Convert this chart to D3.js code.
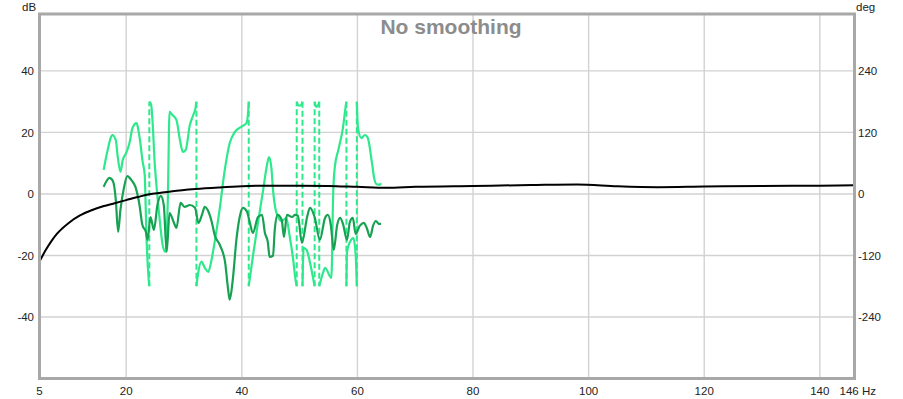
<!DOCTYPE html>
<html>
<head>
<meta charset="utf-8">
<script src="https://cdn.jsdelivr.net/npm/d3@7"></script>
<style>
  body { margin: 0; background: #fff; }
  svg { display: block; font-family: "Liberation Sans", Arial, sans-serif; }
</style>
</head>
<body>
<svg id="chart" width="903" height="399"></svg>
<script>
// axis ticks
const freqTicks = [5, 20, 40, 60, 80, 100, 120, 140];
const dbTicks = [40, 20, 0, -20, -40];
const degTicks = [240, 120, 0, -120, -240];

// black trace (dB)
const blackFreq = [5, 6, 7, 8, 10, 12, 14, 16, 18, 20, 22, 24, 26, 28, 32, 36, 40, 45, 50, 55, 60, 65, 70, 80, 90, 98, 105, 112, 120, 130, 140, 146];
const blackDb = [-22, -18.5, -15.5, -13, -9.5, -7, -5.3, -4, -3, -2, -1, -0.1, 0.4, 0.9, 1.6, 2.1, 2.5, 2.7, 2.7, 2.6, 2.3, 2.0, 2.3, 2.6, 2.9, 3.1, 2.5, 2.2, 2.4, 2.6, 2.7, 2.8];

// dark green SPL (dB)
const splFreq = [16.1, 16.6, 17.1, 17.7, 18.2, 18.6, 19.0, 19.6, 20.2, 20.9, 21.6, 22.3, 22.8, 23.4, 23.7, 24.2, 24.8, 25.4, 26.0, 26.5, 27.0, 27.5, 28.2, 28.7, 29.4, 30.1, 31.0, 31.9, 32.5, 33.1, 33.6, 34.1, 34.8, 35.3, 36.2, 37.1, 37.6, 37.9, 38.4, 39.1, 39.6, 40.2, 40.9, 41.4, 41.9, 42.8, 43.5, 44.0, 44.5, 44.8, 45.4, 45.7, 46.2, 46.9, 47.3, 47.8, 48.7, 49.2, 49.7, 50.4, 51.3, 51.8, 52.6, 53.5, 54.4, 54.9, 55.4, 55.9, 56.5, 57.0, 57.5, 58.2, 58.7, 59.2, 59.7, 60.4, 61.1, 61.6, 62.2, 62.7, 63.2, 63.7, 64.1];
const splDb = [2.3, 4.2, 5.2, 4.2, -1.9, -12.3, -5.2, 1.9, 5.8, 4.5, 2.3, -3.6, -10.1, -12.3, -14.9, -7.5, -11.7, -3.6, -0.6, -3.6, -18.8, -6.2, -9.1, -11.0, -2.9, -4.2, -3.6, -4.5, -9.4, -6.8, -4.2, -5.2, -9.1, -13.3, -16.6, -22.1, -30.5, -34.4, -28.6, -14.3, -7.8, -4.5, -5.8, -9.4, -12.7, -7.5, -6.8, -12.7, -15.6, -20.5, -20.1, -11.7, -6.8, -8.4, -14.0, -6.8, -7.5, -6.8, -7.1, -15.9, -7.5, -4.5, -7.5, -14.9, -7.8, -6.8, -10.1, -18.2, -10.1, -7.8, -9.7, -14.9, -9.1, -7.8, -13.0, -10.4, -9.4, -11.0, -14.0, -10.4, -8.8, -9.7, -9.7];

// light green phase (deg), a repeated frequency marks a wrap between +180 and -180
const phaseFreq = [16.1, 16.8, 17.3, 17.6, 18.2, 18.5, 19.0, 19.4, 20.0, 20.6, 21.1, 21.8, 22.1, 22.5, 22.8, 23.2, 23.5, 23.9, 24.0,
  24.0, 24.3, 24.6, 24.9, 25.3, 25.8, 26.3, 26.8, 27.2, 27.5, 28.0, 28.7, 29.3, 29.8, 30.3, 31.0, 31.6, 32.0, 32.15,
  32.15, 32.4, 33.0, 33.6, 34.2, 34.7, 35.3, 36.2, 37.0, 37.9, 38.8, 39.9, 40.8, 41.1, 41.2,
  41.2, 41.9, 42.8, 43.7, 44.3, 44.7, 45.1, 45.4, 46.0, 46.9, 47.7, 48.3, 48.9, 49.3, 49.5,
  49.5, 49.9, 50.3, 50.5,
  50.5, 50.7, 51.2, 51.8, 52.3, 52.6,
  52.6, 52.9, 53.2, 53.4,
  53.4, 54.1, 54.4, 55.5, 55.8, 56.1, 56.7, 57.5, 58.0, 58.1,
  58.1, 58.2, 58.7, 59.3, 59.7, 59.9,
  59.9, 60.1, 60.7, 61.3, 61.8, 62.5, 62.9, 63.3, 63.9, 64.1];
const phaseDeg = [47, 86, 109, 115, 105, 76, 43, 66, 80, 101, 129, 138, 125, 95, 66, 37, -80, -168, -180,
  180, 175, 134, 66, 8, -51, -99, -113, -12, 160, 154, 144, 105, 82, 86, 134, 154, 168, 180,
  -180, -158, -132, -144, -152, -132, -94, -27, 43, 99, 121, 131, 138, 160, 180,
  -180, -123, -56, 8, 53, 72, 53, 8, -37, -53, -47, -84, -129, -168, -180,
  180, 172, 174, 180,
  -180, -105, -109, -134, -162, -180,
  180, 170, 173, 180,
  -180, -152, -144, -164, -2, 53, 86, 129, 173, 180,
  -180, -113, -94, -86, -119, -180,
  180, 129, 109, 115, 109, 62, 31, 19, 18, 21];

const svg = d3.select("#chart");
const plot = { left: 39.5, right: 854.5, top: 14, bottom: 378.5 };

const x = d3.scaleLinear().domain([5, 146]).range([plot.left, plot.right]);
const y = d3.scaleLinear().domain([-60, 58.5]).range([plot.bottom, plot.top]);
const yDeg = d3.scaleLinear().domain([-360, 351]).range([plot.bottom, plot.top]);

svg.append("defs").append("clipPath").attr("id", "clip")
  .append("rect")
  .attr("x", plot.left).attr("y", plot.top)
  .attr("width", plot.right - plot.left).attr("height", plot.bottom - plot.top);

// --- grid ---
const grid = svg.append("g");
grid.selectAll(".vgrid")
  .data(freqTicks.filter(d => d > 5))
  .enter().append("line")
  .attr("x1", d => x(d)).attr("x2", d => x(d))
  .attr("y1", plot.top).attr("y2", plot.bottom)
  .attr("stroke", "#d2d2d2").attr("stroke-width", 1.4);
grid.selectAll(".hgrid")
  .data(dbTicks)
  .enter().append("line")
  .attr("x1", plot.left).attr("x2", plot.right)
  .attr("y1", d => y(d)).attr("y2", d => y(d))
  .attr("stroke", "#d2d2d2").attr("stroke-width", 1.4);

// --- title ---
svg.append("text")
  .attr("x", 451).attr("y", 34)
  .attr("text-anchor", "middle")
  .attr("font-size", 21).attr("font-weight", "bold")
  .attr("fill", "#8c8c8c")
  .text("No smoothing");

// --- traces ---
const lines = svg.append("g").attr("clip-path", "url(#clip)");
const line = d3.line().curve(d3.curveMonotoneX);

const phasePts = phaseFreq.map((f, i) => [x(f), yDeg(phaseDeg[i])]);
const solid = [], wraps = [];
let cur = [phasePts[0]];
for (let i = 1; i < phasePts.length; i++) {
  const a = phasePts[i - 1], b = phasePts[i];
  if (phaseFreq[i] === phaseFreq[i - 1]) {
    wraps.push([a, b]);
    solid.push(cur);
    cur = [b];
  } else {
    cur.push(b);
  }
}
solid.push(cur);

lines.selectAll(".wrap")
  .data(wraps)
  .enter().append("line")
  .attr("x1", d => d[0][0]).attr("y1", d => d[0][1])
  .attr("x2", d => d[1][0]).attr("y2", d => d[1][1])
  .attr("stroke", "#2ee88c").attr("stroke-width", 2)
  .attr("stroke-dasharray", "6,3");

lines.selectAll(".phase")
  .data(solid)
  .enter().append("path")
  .attr("d", d => line(d))
  .attr("fill", "none")
  .attr("stroke", "#2ee88c").attr("stroke-width", 2.2);

lines.append("path")
  .attr("d", line(splFreq.map((f, i) => [x(f), y(splDb[i])])))
  .attr("fill", "none")
  .attr("stroke", "#17a152").attr("stroke-width", 2.2);

lines.append("path")
  .attr("d", line(blackFreq.map((f, i) => [x(f), y(blackDb[i])])))
  .attr("fill", "none")
  .attr("stroke", "#000").attr("stroke-width", 2);

// --- frame ---
svg.append("rect")
  .attr("x", plot.left).attr("y", plot.top)
  .attr("width", plot.right - plot.left).attr("height", plot.bottom - plot.top)
  .attr("fill", "none").attr("stroke", "#a8a8a8").attr("stroke-width", 3);

// --- axis labels ---
const labels = svg.append("g").attr("font-size", 11.5).attr("fill", "#222");
labels.selectAll(".ylab")
  .data(dbTicks)
  .enter().append("text")
  .attr("x", 34).attr("y", d => y(d)).attr("dy", "0.36em")
  .attr("text-anchor", "end")
  .text(d => d);
labels.selectAll(".rlab")
  .data(degTicks)
  .enter().append("text")
  .attr("x", 858).attr("y", d => yDeg(d)).attr("dy", "0.36em")
  .text(d => d);
labels.selectAll(".xlab")
  .data(freqTicks)
  .enter().append("text")
  .attr("x", d => x(d)).attr("y", 395)
  .attr("text-anchor", "middle")
  .text(d => d);
labels.append("text")
  .attr("x", x(146) - 15).attr("y", 395)
  .text("146 Hz");
labels.append("text").attr("x", 22).attr("y", 11).text("dB");
labels.append("text").attr("x", 856).attr("y", 11).text("deg");
</script>
</body>
</html>
